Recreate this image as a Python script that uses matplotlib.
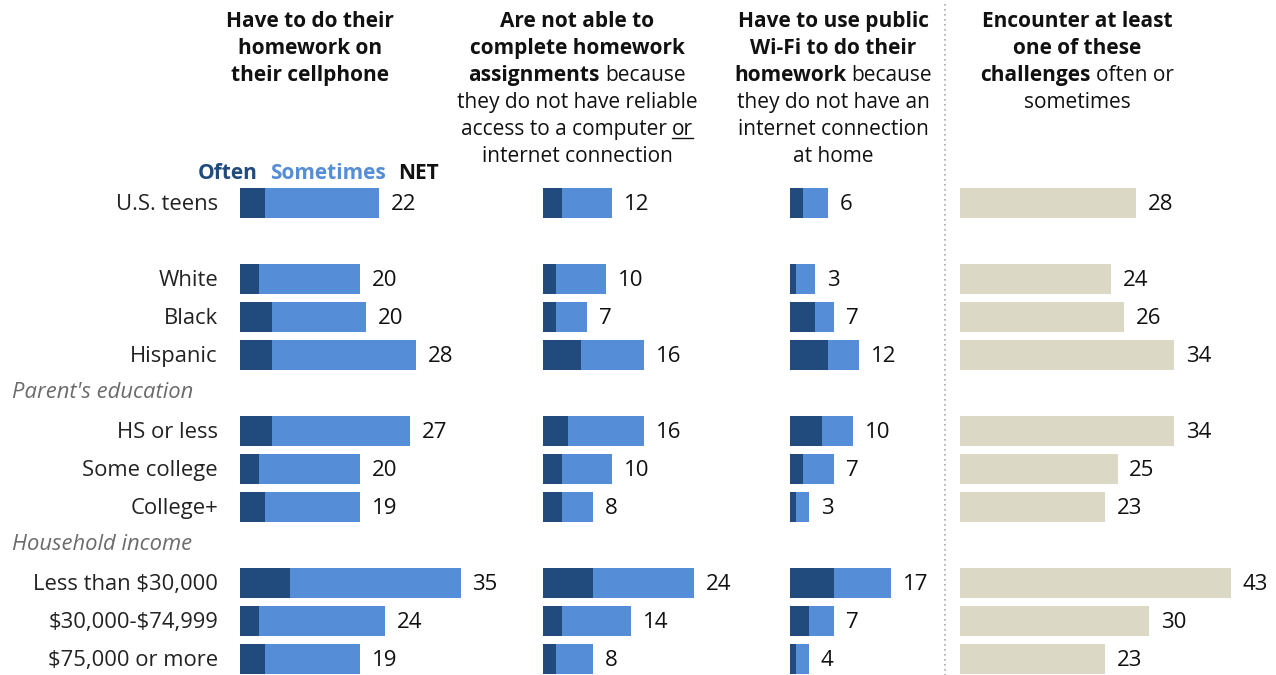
import numpy as np
import matplotlib.pyplot as plt
from matplotlib.lines import Line2D

plt.rcParams['font.family'] = ['Open Sans', 'DejaVu Sans']

W, H = 1276, 675

categories = ["U.S. teens", "White", "Black", "Hispanic",
              "HS or less", "Some college", "College+",
              "Less than $30,000", "$30,000-$74,999", "$75,000 or more"]
groups = ["Parent's education", "Household income"]

# homework on cellphone
cell_often = [4, 3, 5, 5, 5, 3, 4, 8, 3, 4]
cell_sometimes = [18, 16, 15, 23, 22, 16, 15, 27, 20, 15]
cell_net = [22, 20, 20, 28, 27, 20, 19, 35, 24, 19]

# can't complete homework
hw_often = [3, 2, 2, 6, 4, 3, 3, 8, 3, 2]
hw_sometimes = [8, 8, 5, 10, 12, 8, 5, 16, 11, 6]
hw_net = [12, 10, 7, 16, 16, 10, 8, 24, 14, 8]

# public wi-fi
wifi_often = [2, 1, 4, 6, 5, 2, 1, 7, 3, 1]
wifi_sometimes = [4, 3, 3, 5, 5, 5, 2, 9, 4, 2]
wifi_net = [6, 3, 7, 12, 10, 7, 3, 17, 7, 4]

# at least one challenge
any_net = [28, 24, 26, 34, 34, 25, 23, 43, 30, 23]

DARK = '#214a7d'
LIGHT = '#558dd6'
BEIGE = '#dcd8c6'
GREY = '#6b6b6b'
K = '#111111'

# row layout (blank row after U.S. teens, header rows for the groups)
rows = [0, 2, 3, 4, 6, 7, 8, 10, 11, 12]
group_rows = [5, 9]
row0_px, row_step = 203, 38
ytop, ybot = -0.6, 12.4
FS_VAL = 16
FS_CAT = 15.8
FS_HEAD = 15

fig = plt.figure(figsize=(W / 100, H / 100), dpi=100)


def fx(px):
    return px / W


def fy(py):
    return 1 - py / H


def panel(x0_px, units):
    scale = 6.3
    top = row0_px + ytop * row_step
    bot = row0_px + ybot * row_step
    ax = fig.add_axes([fx(x0_px), fy(bot), units * scale / W, (bot - top) / H])
    ax.set_xlim(0, units)
    ax.set_ylim(ybot, ytop)
    ax.axis('off')
    ax.patch.set_alpha(0)
    return ax


def stacked(ax, often, sometimes, net):
    ax.barh(rows, often, height=0.78, color=DARK)
    ax.barh(rows, sometimes, left=often, height=0.78, color=LIGHT)
    for r, o, s, n in zip(rows, often, sometimes, net):
        ax.annotate(str(n), xy=(o + s, r), xytext=(8.5, -1.2), textcoords='offset points',
                    va='center', ha='left', fontsize=FS_VAL, color=K)


ax1 = panel(240, 40)
stacked(ax1, cell_often, cell_sometimes, cell_net)
ax2 = panel(543, 40)
stacked(ax2, hw_often, hw_sometimes, hw_net)
ax3 = panel(790, 40)
stacked(ax3, wifi_often, wifi_sometimes, wifi_net)
ax4 = panel(960, 50)
ax4.barh(rows, any_net, height=0.78, color=BEIGE)
for r, n in zip(rows, any_net):
    ax4.annotate(str(n), xy=(n, r), xytext=(8.5, -1.2), textcoords='offset points',
                 va='center', ha='left', fontsize=FS_VAL, color=K)

# category labels
for c, r in zip(categories, rows):
    fig.text(fx(218), fy(row0_px + r * row_step + 1.5), c, ha='right', va='center',
             fontsize=FS_CAT, color='#222222', parse_math=False)
for g, r in zip(groups, group_rows):
    fig.text(fx(12), fy(row0_px + r * row_step - 1), g, ha='left', va='center',
             fontsize=FS_CAT, color=GREY, style='italic')

# dotted divider
fig.add_artist(Line2D([fx(945), fx(945)], [fy(4), fy(675)], transform=fig.transFigure,
                      color='#aaaaaa', linestyle=(0, (1, 2)), linewidth=1.2))

renderer = fig.canvas.get_renderer()


def draw_line(pieces, x_px, y_px, align='center', fs=FS_HEAD, gap=5.5):
    # pieces: (text, style, color); style b=bold, n=normal, u=underlined normal
    texts = []
    for s, st, col in pieces:
        t = fig.text(0, 0, s, fontsize=fs, color=col, va='baseline', ha='left',
                     fontweight='bold' if st == 'b' else 'normal')
        texts.append((t, st))
    widths = [t.get_window_extent(renderer).width for t, _ in texts]
    total = sum(widths) + gap * (len(widths) - 1)
    x = x_px - total / 2 if align == 'center' else x_px
    for (t, st), w in zip(texts, widths):
        t.set_position((fx(x), fy(y_px)))
        if st == 'u':
            fig.add_artist(Line2D([fx(x), fx(x + w)], [fy(y_px + 3), fy(y_px + 3)],
                                  transform=fig.transFigure, color=K, linewidth=1))
        x += w + gap


headers = [
    (310, [[("Have to do their", 'b', K)],
           [("homework on", 'b', K)],
           [("their cellphone", 'b', K)]]),
    (577, [[("Are not able to", 'b', K)],
           [("complete homework", 'b', K)],
           [("assignments", 'b', K), ("because", 'n', K)],
           [("they do not have reliable", 'n', K)],
           [("access to a computer", 'n', K), ("or", 'u', K)],
           [("internet connection", 'n', K)]]),
    (833, [[("Have to use public", 'b', K)],
           [("Wi-Fi to do their", 'b', K)],
           [("homework", 'b', K), ("because", 'n', K)],
           [("they do not have an", 'n', K)],
           [("internet connection", 'n', K)],
           [("at home", 'n', K)]]),
    (1077, [[("Encounter at least", 'b', K)],
            [("one of these", 'b', K)],
            [("challenges", 'b', K), ("often or", 'n', K)],
            [("sometimes", 'n', K)]]),
]
for cx, lines in headers:
    for i, line in enumerate(lines):
        draw_line(line, cx, 27 + 27 * i)

# legend
draw_line([("Often", 'b', DARK), ("Sometimes", 'b', LIGHT), ("NET", 'b', K)],
          198, 179, align='left', gap=12)

fig.savefig('out.png', dpi=100)
